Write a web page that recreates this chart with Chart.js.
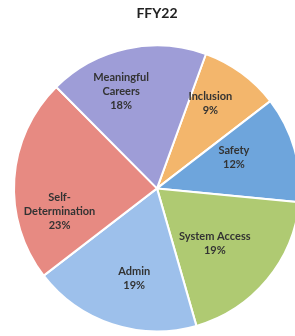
<!DOCTYPE html>
<html>
<head>
<meta charset="utf-8">
<script src="https://cdn.jsdelivr.net/npm/chart.js@4/dist/chart.umd.min.js"></script>
<style>
  html, body { margin: 0; padding: 0; background: #fff; overflow: hidden; }
  #wrap { width: 302px; height: 336px; position: relative; }
</style>
</head>
<body>
<div id="wrap"><canvas id="myChart"></canvas></div>
<script>
// FFY22 budget share by area (percent), clockwise from the top
const categories = ['Inclusion', 'Safety', 'System Access', 'Admin', 'Self-Determination', 'Meaningful Careers'];
const shares = [9, 12, 19, 19, 23, 18];
const labelLines = [['Inclusion'], ['Safety'], ['System Access'], ['Admin'], ['Self-', 'Determination'], ['Meaningful', 'Careers']];
const sliceColors = ['#f3b66c', '#6ea5dc', '#afca72', '#9dc0eb', '#e78a82', '#9e9dd7'];

// draws the category name and percent inside each slice
const sliceLabels = {
  id: 'sliceLabels',
  afterDatasetsDraw(chart, args, opts) {
    const ctx = chart.ctx;
    const meta = chart.getDatasetMeta(0);
    ctx.save();
    ctx.font = opts.font;
    ctx.fillStyle = opts.color;
    ctx.textAlign = 'center';
    ctx.textBaseline = 'middle';
    meta.data.forEach((arc, i) => {
      const p = arc.getProps(['x', 'y', 'startAngle', 'endAngle', 'outerRadius'], true);
      const mid = (p.startAngle + p.endAngle) / 2 + opts.angleShift[i] * Math.PI / 180;
      const r = p.outerRadius * opts.radius[i];
      const cx = p.x + Math.cos(mid) * r;
      const cy = p.y + Math.sin(mid) * r;
      const lines = labelLines[i].concat([shares[i] + '%']);
      const top = cy - (lines.length - 1) * opts.lineHeight / 2;
      lines.forEach((t, j) => ctx.fillText(t, cx, top + j * opts.lineHeight));
    });
    ctx.restore();
  }
};

const ctx = document.getElementById('myChart').getContext('2d');
const myChart = new Chart(ctx, {
  type: 'pie',
  data: {
    labels: categories,
    datasets: [
      {
        data: shares,
        backgroundColor: sliceColors,
        borderColor: '#ffffff',
        borderWidth: 2
      }
    ]
  },
  options: {
    responsive: true,
    maintainAspectRatio: false,
    animation: false,
    rotation: 20,
    layout: { padding: { left: 13, right: 1, top: 0, bottom: 3 } },
    plugins: {
      legend: { display: false },
      tooltip: { enabled: false },
      title: {
        display: true,
        text: 'FFY22',
        color: '#222',
        font: { family: 'Lato, "Open Sans", sans-serif', size: 14, weight: 'bold', lineHeight: 1.2 },
        padding: { top: 5, bottom: 22 }
      },
      sliceLabels: {
        font: 'bold 11px Lato, "Open Sans", sans-serif',
        color: '#333',
        lineHeight: 14,
        // Excel-style "best fit" placement, relative to each slice
        angleShift: [-4, -6, 4, -4, -17, -8],
        radius: [0.70, 0.58, 0.56, 0.65, 0.70, 0.72]
      }
    }
  },
  plugins: [sliceLabels]
});
</script>
</body>
</html>
